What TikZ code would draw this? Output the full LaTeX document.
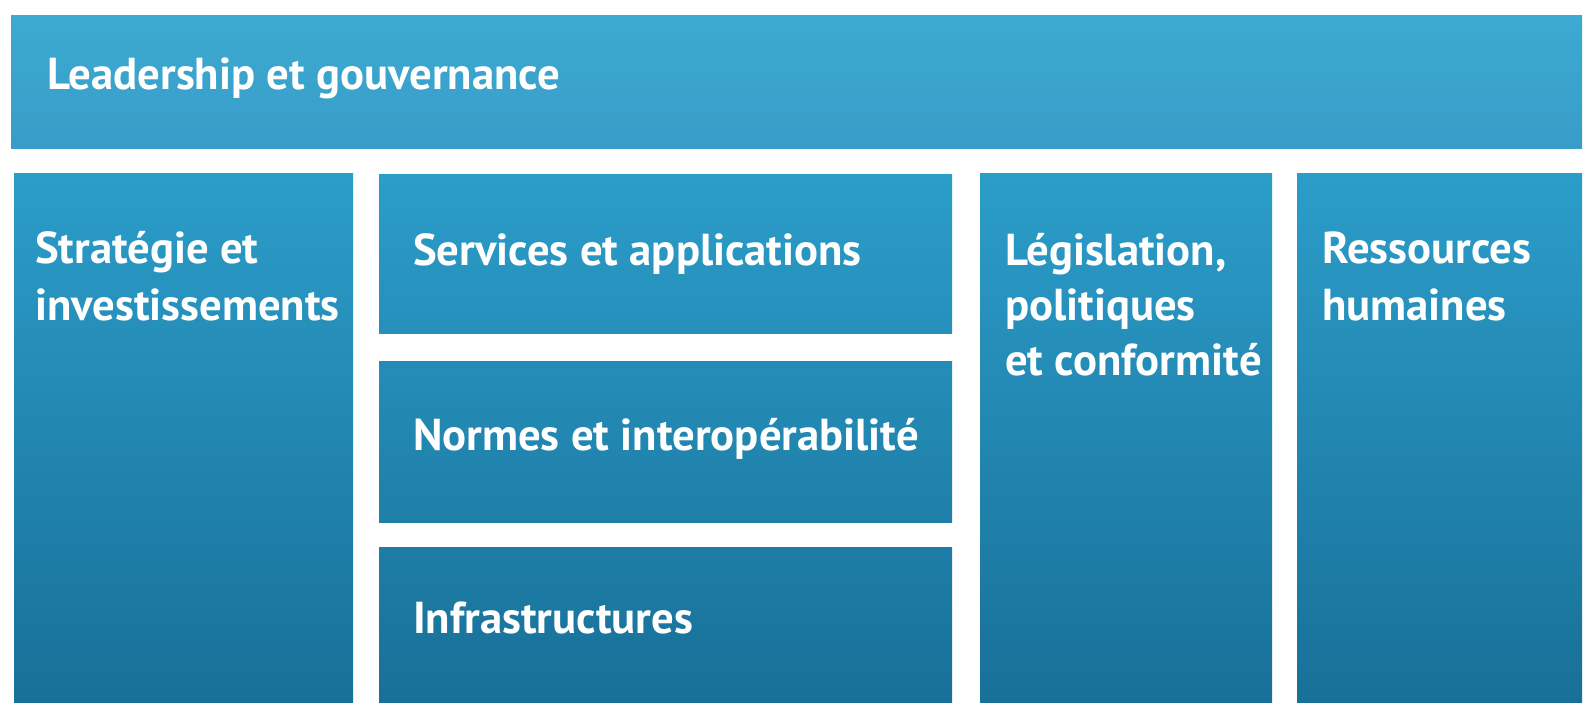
\documentclass[tikz,border=0pt]{standalone}
\usepackage{fontspec}
\setmainfont{PT Sans}
\definecolor{ctopA}{HTML}{3CAAD1}
\definecolor{ctopB}{HTML}{389DC8}
\definecolor{chigh}{HTML}{2B9DC9}
\definecolor{clow}{HTML}{187098}
\tikzset{
  box/.style={rectangle, draw=none, inner sep=0pt, outer sep=0pt, anchor=north west},
  txt/.style={anchor=base west, inner sep=0pt, text=white, font=\fontsize{44.7}{57}\selectfont\bfseries}
}
\begin{document}
\begin{tikzpicture}[x=1pt,y=-1pt]
\useasboundingbox[fill=white] (0,0) rectangle (1583,702);
% boxes
\node[box, minimum width=1571pt, minimum height=133pt, top color=ctopA, bottom color=ctopB] (lead) at (11,15) {};
\node[box, minimum width=339pt, minimum height=529pt, top color=chigh, bottom color=clow] (strat) at (14,173) {};
\node[box, minimum width=573pt, minimum height=159pt, top color=chigh, bottom color=clow!30!chigh] (serv) at (379,174) {};
\node[box, minimum width=573pt, minimum height=161pt, top color=clow!36!chigh, bottom color=clow!66!chigh] (norm) at (379,361) {};
\node[box, minimum width=573pt, minimum height=155pt, top color=clow!71!chigh, bottom color=clow] (infra) at (379,547) {};
\node[box, minimum width=292pt, minimum height=529pt, top color=chigh, bottom color=clow] (legis) at (980,173) {};
\node[box, minimum width=285pt, minimum height=529pt, top color=chigh, bottom color=clow] (rh) at (1297,173) {};
% texts
\node[txt] (leadT) at (47,89) {Leadership et gouvernance};
\node[txt] (stratT1) at (35,263) {Stratégie et};
\node[txt] (stratT2) at (35,320) {investissements};
\node[txt] (servT) at (413,265) {Services et applications};
\node[txt] (normT) at (413,450) {Normes et interopérabilité};
\node[txt] (infraT) at (413,633) {Infrastructures};
\node[txt] (legisT1) at (1005,265) {Législation,};
\node[txt] (legisT2) at (1005,320) {politiques};
\node[txt] (legisT3) at (1005,375) {et conformité};
\node[txt] (rhT1) at (1322,263) {Ressources};
\node[txt] (rhT2) at (1322,320) {humaines};
\end{tikzpicture}
\end{document}
